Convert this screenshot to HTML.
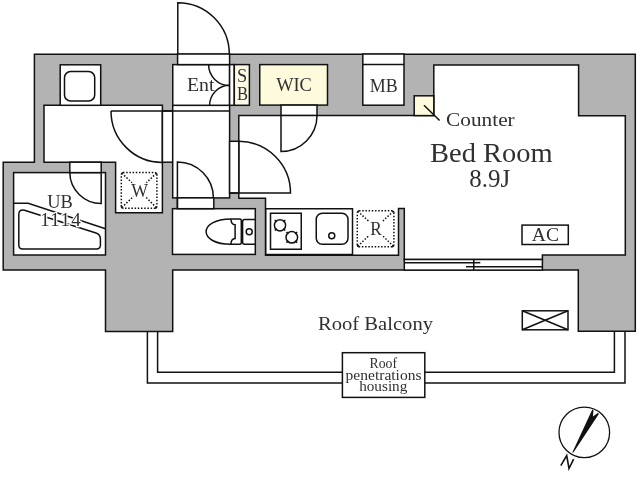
<!DOCTYPE html>
<html><head><meta charset="utf-8">
<style>
html,body{margin:0;padding:0;background:#fff;}
svg{display:block;}
text{font-family:"Liberation Serif",serif;fill:#303030;}
svg text{transform:translateZ(0);}
</style></head>
<body>
<svg width="640" height="478" viewBox="0 0 640 478">
<g fill="none" stroke="#111" stroke-width="1.5">
<!-- footprint -->
<path fill="#b3b3b3" d="M34.4,54.2 H635.3 V331.3 H578.3 V270.1 H172.7 V331.5 H105.5 V270.1 H3.2 V162.2 H34.4 Z"/>
<!-- washroom L -->
<path fill="#fff" d="M44,105.3 H162.4 V212.7 H115.6 V162.2 H44 Z"/>
<!-- washroom door opening -->
<rect fill="#fff" x="162.4" y="111" width="10.3" height="51.2"/>
<!-- UB -->
<rect fill="#fff" x="13.6" y="172.6" width="91.9" height="82.4"/>
<rect fill="#fff" x="69.8" y="162.2" width="31.4" height="10.4"/>
<!-- hall -->
<rect fill="#fff" x="172.7" y="105.3" width="56.9" height="92.6"/>
<line x1="111" y1="111" x2="229.6" y2="111"/>
<!-- Ent -->
<rect fill="#fff" x="172.75" y="64.6" width="56.85" height="40.7"/>
<rect fill="#fff" x="177.6" y="54" width="52" height="10.6"/>
<!-- SB -->
<rect fill="#fff" x="229.6" y="64.6" width="4.7" height="40.7"/>
<rect fill="#fdfbe6" x="234.3" y="64.6" width="15.1" height="40.7"/>
<!-- WIC -->
<rect fill="#fdfbdc" x="259.75" y="64.6" width="67.75" height="40.5"/>
<rect fill="#fff" x="281" y="105.1" width="36" height="10.5"/>
<!-- MB -->
<rect fill="#fff" x="362.8" y="54" width="41.2" height="51.2"/>
<line x1="362.8" y1="64.4" x2="404" y2="64.4"/>
<!-- bedroom -->
<path fill="#fff" d="M238.8,115.6 H433.8 V64.9 H578.6 V115.7 H625.3 V254.9 H542.4 V259.5 H404.3 V208.6 H398.5 V255.3 H265.5 V198.2 H238.8 Z"/>
<!-- counter -->
<rect fill="#fdfbdc" x="414.2" y="95.8" width="19.6" height="19.8"/>
<line x1="424" y1="105.2" x2="439.6" y2="120.5"/>
<!-- bedroom door opening -->
<rect fill="#fff" x="229.6" y="141.3" width="9.2" height="51.7"/>
<!-- toilet -->
<rect fill="#fff" x="172.5" y="208.7" width="82.8" height="45.7"/>
<rect fill="#fff" x="177.4" y="197.9" width="36.4" height="10.8"/>
<!-- window -->
<rect fill="#fff" x="404.3" y="259.5" width="138.1" height="10.6"/>
<line x1="404.3" y1="262.75" x2="473.75" y2="262.75"/>
<line x1="473.75" y1="266.7" x2="542.4" y2="266.7"/>
<line x1="473.75" y1="259.5" x2="473.75" y2="270.1"/>
<line x1="466" y1="266.7" x2="473.75" y2="266.7"/>
<line x1="473.75" y1="262.7" x2="480.3" y2="262.7"/>
<!-- top-left box -->
<rect fill="#fff" x="60.2" y="64.8" width="40.5" height="40.5"/>
<rect x="64.5" y="71.6" width="30.2" height="29.3" rx="6"/>
<!-- doors -->
<path d="M177.8,54.2 V2.7 A51.5,51.5 0 0 1 229.3,54.2"/>
<path d="M208.6,64.6 A21,21 0 0 0 229.6,85.6"/>
<path d="M209.6,105.3 A20,20 0 0 1 229.6,85.3"/>
<path d="M111,111 A51.4,51.4 0 0 0 162.4,162.4"/>
<path d="M101.2,172.6 V203.6 A31.4,31.4 0 0 1 69.8,172.6"/>
<path d="M281,115.6 V151.6 A36,36 0 0 0 317,115.6"/>
<path d="M238.8,141.3 A51.7,51.7 0 0 1 290.5,193 H229.8"/>
<path d="M177.4,208.7 V161.9 A36,36 0 0 1 213.4,197.9"/>
<!-- kitchen -->
<rect fill="#fff" x="265.75" y="208.75" width="86.75" height="45.75"/>
<rect x="270.5" y="213.25" width="30.75" height="36"/>
<circle cx="280" cy="225.3" r="5.6"/>
<circle cx="291.8" cy="237.3" r="5.8"/>
<path stroke-width="1.6" d="M283.3,222 L285.2,220.1 M283.3,228.6 L285.2,230.5 M276.7,228.6 L274.8,230.5 M276.7,222 L274.8,220.1 M295.2,233.9 L297.1,232 M295.2,240.7 L297.1,242.6 M288.4,240.7 L286.5,242.6 M288.4,233.9 L286.5,232"/>
<rect x="316.25" y="213.25" width="31.75" height="31" rx="6"/>
<circle cx="331.75" cy="235.75" r="3"/>
<!-- toilet fixture -->
<path d="M231,219 H239.8 Q241.3,219 241.3,220.5 V242.8 Q241.3,244.3 239.8,244.3 H231 C215,244.2 206.1,238.5 206.1,231.6 C206.1,224.8 215,219.2 231,219 Z"/>
<path d="M231,219.2 C231,222.5 232,224.6 235.1,224.8 V238.5 C232,238.7 231,240.8 231,244.1"/>
<path d="M255,219.5 H244.6 Q242.6,219.5 242.6,221.5 V242.3 Q242.6,244.3 244.6,244.3 H255"/>
<circle cx="249.2" cy="231.7" r="3"/>
<!-- UB tub -->
<path d="M13.6,203.3 H28.2 L105.5,228.7"/>
<path d="M24.5,210.3 L96,233 Q100.4,234.5 100.4,239 V245 Q100.4,249 96.4,249 H22.8 Q18.8,249 18.8,245 V214.3 Q18.8,209 24.5,210.3 Z"/>
<!-- AC -->
<rect x="522" y="225.1" width="46.3" height="19.4"/>
<!-- X box -->
<rect x="522.3" y="310.8" width="45.7" height="19"/>
<line x1="522.3" y1="310.8" x2="568" y2="329.8"/>
<line x1="522.3" y1="329.8" x2="568" y2="310.8"/>
<!-- rail -->
<path d="M147.4,331.5 V382.9 H625 V331.3"/>
<path d="M157.6,331.5 V372.3 H614.4 V331.3"/>
<rect fill="#fff" x="342.4" y="352.7" width="82.4" height="44.7"/>
<!-- compass -->
<circle cx="584.3" cy="432.4" r="25.3" stroke-width="1.3"/>
<path d="M560.8,465.6 L566.7,455.5 L569,468.5 L573.6,459.2" stroke-width="1.6"/>
</g>
<!-- dotted boxes -->
<g fill="none" stroke="#111" stroke-width="1.5" stroke-dasharray="1.5 1.7">
<path d="M123,172.6 H155.3 M156.9,174.2 V206.6 M155.3,208.2 H123 M121.3,206.6 V174.2"/>
<path d="M121.8,173.2 L132,182.7 M156.4,207.6 L145.5,196.8 M156.4,173.2 L146.4,182.7 M121.8,207.6 L133.5,196.3"/>
<path d="M359,210.75 H392.2 M393.9,212.5 V245 M392.2,246.8 H359 M357.3,245 V212.5"/>
<path d="M357.8,211.3 L369,221.5 M393.4,246.2 L382.3,235.5 M393.4,211.3 L382.3,221.5 M357.8,246.2 L369,235.5"/>
</g>
<g fill="none" stroke="#111" stroke-width="1.2">
<path d="M121.3,174.6 Q121.3,172.6 123.3,172.6 M154.9,172.6 Q156.9,172.6 156.9,174.6 M156.9,206.2 Q156.9,208.2 154.9,208.2 M123.3,208.2 Q121.3,208.2 121.3,206.2"/>
<path d="M357.3,212.75 Q357.3,210.75 359.3,210.75 M391.9,210.75 Q393.9,210.75 393.9,212.75 M393.9,244.8 Q393.9,246.8 391.9,246.8 M359.3,246.8 Q357.3,246.8 357.3,244.8"/>
</g>
<!-- needle -->
<path fill="#111" d="M572.2,452.8 L592.3,409.5 L593.5,409.9 L592.9,416.6 L597.8,413 L599,413.8 L573.6,452.2 Z"/>
<!-- text -->
<text x="186.9" y="91" font-size="18" textLength="27.5" lengthAdjust="spacingAndGlyphs">Ent</text>
<text x="236.9" y="82.2" font-size="19.5" textLength="10.2" lengthAdjust="spacingAndGlyphs">S</text>
<text x="237.1" y="100.3" font-size="18.5" textLength="11" lengthAdjust="spacingAndGlyphs">B</text>
<text x="276.2" y="91.25" font-size="18.5" textLength="35.6" lengthAdjust="spacingAndGlyphs">WIC</text>
<text x="369.8" y="91.5" font-size="18" textLength="27.9" lengthAdjust="spacingAndGlyphs">MB</text>
<text x="446.1" y="126.2" font-size="18.5" textLength="68.6" lengthAdjust="spacingAndGlyphs">Counter</text>
<text x="430.1" y="161.7" font-size="26.5" textLength="122.6" lengthAdjust="spacingAndGlyphs">Bed Room</text>
<text x="469.3" y="186.9" font-size="25.5" textLength="40.8" lengthAdjust="spacingAndGlyphs">8.9J</text>
<text x="531.8" y="241.3" font-size="18.5" textLength="27.2" lengthAdjust="spacingAndGlyphs">AC</text>
<text x="131.2" y="197" font-size="19" textLength="16.8" lengthAdjust="spacingAndGlyphs">W</text>
<text x="370.2" y="234.8" font-size="18.5" textLength="11.5" lengthAdjust="spacingAndGlyphs">R</text>
<text x="47.3" y="208.3" font-size="19.5" textLength="25.5" lengthAdjust="spacingAndGlyphs" stroke="#fff" stroke-width="2.5" paint-order="stroke">UB</text>
<text x="40.2" y="225.9" font-size="19" textLength="40.6" lengthAdjust="spacing" stroke="#fff" stroke-width="2.5" paint-order="stroke">1114</text>
<text x="318" y="330.1" font-size="19" textLength="115" lengthAdjust="spacingAndGlyphs">Roof Balcony</text>
<text x="369.5" y="367.8" font-size="14" textLength="27.5" lengthAdjust="spacingAndGlyphs">Roof</text>
<text x="345.6" y="379.9" font-size="14" textLength="75.9" lengthAdjust="spacingAndGlyphs">penetrations</text>
<text x="359.2" y="391.3" font-size="14" textLength="48.1" lengthAdjust="spacingAndGlyphs">housing</text>
</svg>
</body></html>
